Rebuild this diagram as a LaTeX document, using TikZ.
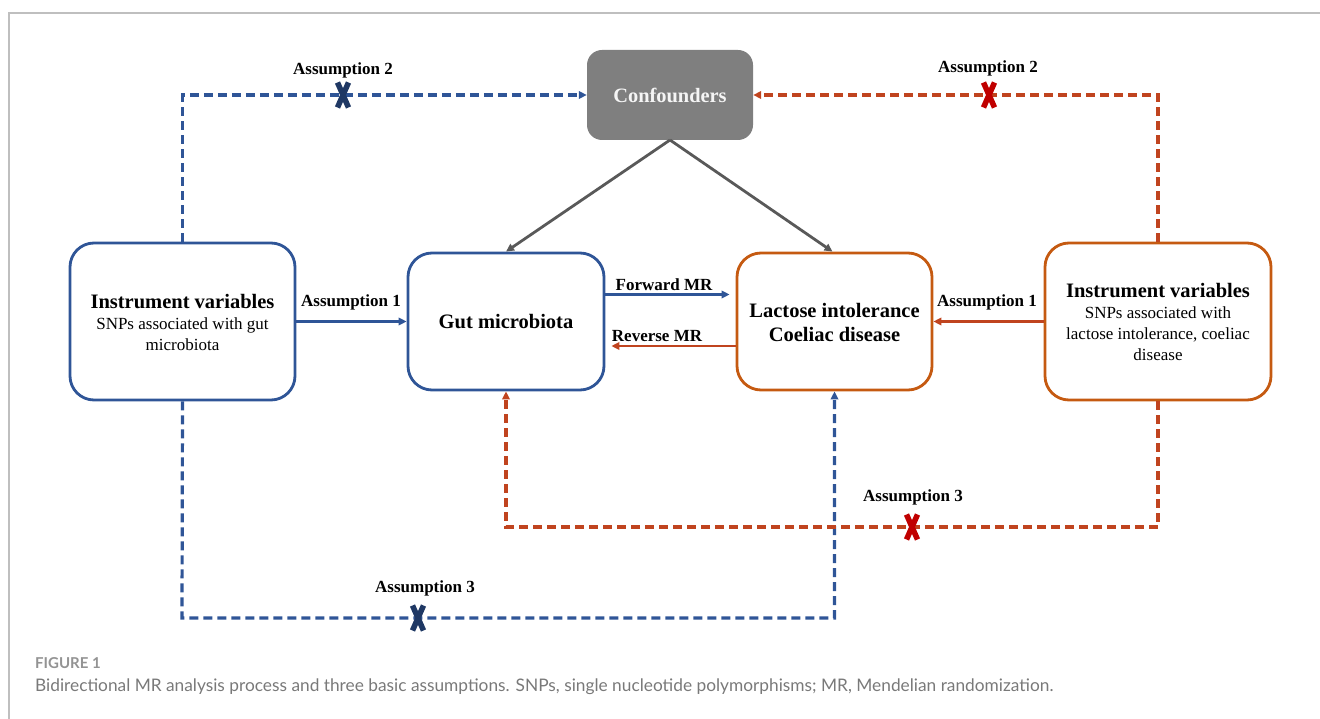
\documentclass[tikz,border=0pt]{standalone}
\usepackage{fontspec}
\setmainfont{Liberation Serif}
\newfontfamily\capfont{Lato}
\usetikzlibrary{arrows.meta,calc}
\definecolor{mblue}{HTML}{2F5597}
\definecolor{morange}{HTML}{C55A11}
\definecolor{mred}{HTML}{C0441F}
\definecolor{xred}{HTML}{C00000}
\definecolor{xnavy}{HTML}{1F3864}
\definecolor{cgray}{HTML}{7F7F7F}
\definecolor{agray}{HTML}{595959}
\tikzset{
  box/.style={draw, line width=2.8pt, rounded corners=24pt, fill=white, inner sep=0pt},
  bluebox/.style={box, draw=mblue},
  orangebox/.style={box, draw=morange},
  conf/.style={fill=cgray, rounded corners=15pt, minimum width=166pt, minimum height=90pt, text=white!92!gray, font=\bfseries\fontsize{20.4}{24}\selectfont},
  tip/.style={-{Triangle[length=8pt,width=7.5pt]}},
  solidarrow/.style={tip, line width=2.8pt},
  dasharrow/.style={tip, line width=3.2pt, dash pattern=on 9pt off 5pt},
  lbl/.style={font=\bfseries\fontsize{17}{19}\selectfont, text=black, inner sep=0pt},
  title/.style={font=\bfseries\fontsize{20.5}{24}\selectfont},
  boxtext/.style={align=center, inner sep=0pt, font=\fontsize{17}{21}\selectfont},
}
\newcommand{\ivtitle}{{\bfseries\fontsize{20.5}{21}\selectfont Instrument variables}}
\begin{document}
\begin{tikzpicture}[x=1pt,y=-1pt]
\useasboundingbox (0,0) rectangle (1320,719);
% frame
\draw[gray!50, line width=1.4pt] (1320,13) -- (9,13) -- (9,719);
% boxes
\node[bluebox, minimum width=225pt, minimum height=157pt] (ivl) at (182.5,321.5) {};
\node[boxtext] (ivlt) at (182.5,322) {\ivtitle\\SNPs associated with gut\\microbiota};
\node[bluebox, minimum width=196pt, minimum height=137pt] (gut) at (506,321.5) {};
\node[title] (gutt) at (506,322) {Gut microbiota};
\node[orangebox, minimum width=195pt, minimum height=137pt] (lac) at (834.5,321.5) {};
\node[align=center, inner sep=0pt, font=\bfseries\fontsize{20.5}{24}\selectfont] (lact) at (834.5,322) {Lactose intolerance\\Coeliac disease};
\node[orangebox, minimum width=226pt, minimum height=157pt] (ivr) at (1158,321.5) {};
\node[boxtext] (ivrt) at (1158,322) {\ivtitle\\SNPs associated with\\lactose intolerance, coeliac\\disease};
\node[conf] (cf) at (670,95) {Confounders};
% confounder arrows
\coordinate (cfb) at (670,140);
\draw[solidarrow, draw=agray] (cfb) -- (gut.north);
\draw[solidarrow, draw=agray] (cfb) -- ($(lac.north)+(-2,0)$);
% assumption 1
\draw[solidarrow, draw=mblue] (ivl.east) -- (gut.west);
\node[lbl] (a1l) at (351,302) {Assumption 1};
\draw[solidarrow, draw=mred] (ivr.west) -- (lac.east);
\node[lbl] (a1r) at (987,302) {Assumption 1};
% forward / reverse
\coordinate (fwd0) at ($(gut.east)+(0,-27)$);
\coordinate (fwd1) at ($(lac.west)+(-6,-27)$);
\draw[solidarrow, draw=mblue] (fwd0) -- (fwd1);
\node[lbl] (fwdl) at (664,285) {Forward MR};
\coordinate (rev0) at ($(lac.west)+(0,24.5)$);
\coordinate (rev1) at ($(gut.east)+(6,24.5)$);
\draw[solidarrow, draw=mred] (rev0) -- (rev1);
\node[lbl] (revl) at (657,336) {Reverse MR};
% assumption 2
\draw[dasharrow, draw=mblue] (ivl.north) |- (cf.west);
\node[lbl] (a2l) at (343,70) {Assumption 2};
\draw[dasharrow, draw=mred] (ivr.north) |- (cf.east);
\node[lbl] (a2r) at (988,68) {Assumption 2};
% assumption 3
\coordinate (b1) at (182,618);
\draw[dasharrow, draw=mblue] (ivl.south) -- (b1) -| (lac.south);
\node[lbl] (a3l) at (425,588) {Assumption 3};
\coordinate (b2) at (1158,527);
\draw[dasharrow, draw=mred] (ivr.south) -- (b2) -| (gut.south);
\node[lbl] (a3r) at (913,497) {Assumption 3};
% X marks
\foreach \cx/\cy/\cc in {343/95/xnavy, 418/618/xnavy, 989/95/xred, 912/527/xred}{
  \draw[\cc, line width=5.5pt] (\cx-5.5,\cy-12.5) -- (\cx+5.5,\cy+12.5);
  \draw[\cc, line width=5.5pt] (\cx+5.5,\cy-12.5) -- (\cx-5.5,\cy+12.5);
}
% caption
\node[anchor=west, inner sep=0pt, text=gray!85, font=\capfont\bfseries\fontsize{15}{17}\selectfont] (fig) at (35,663) {FIGURE 1};
\node[anchor=west, inner sep=0pt, text=gray!95!black, font=\capfont\fontsize{17.3}{19}\selectfont] (cap) at (35,687) {Bidirectional MR analysis process and three basic assumptions. SNPs, single nucleotide polymorphisms; MR, Mendelian randomization.};
\end{tikzpicture}
\end{document}
